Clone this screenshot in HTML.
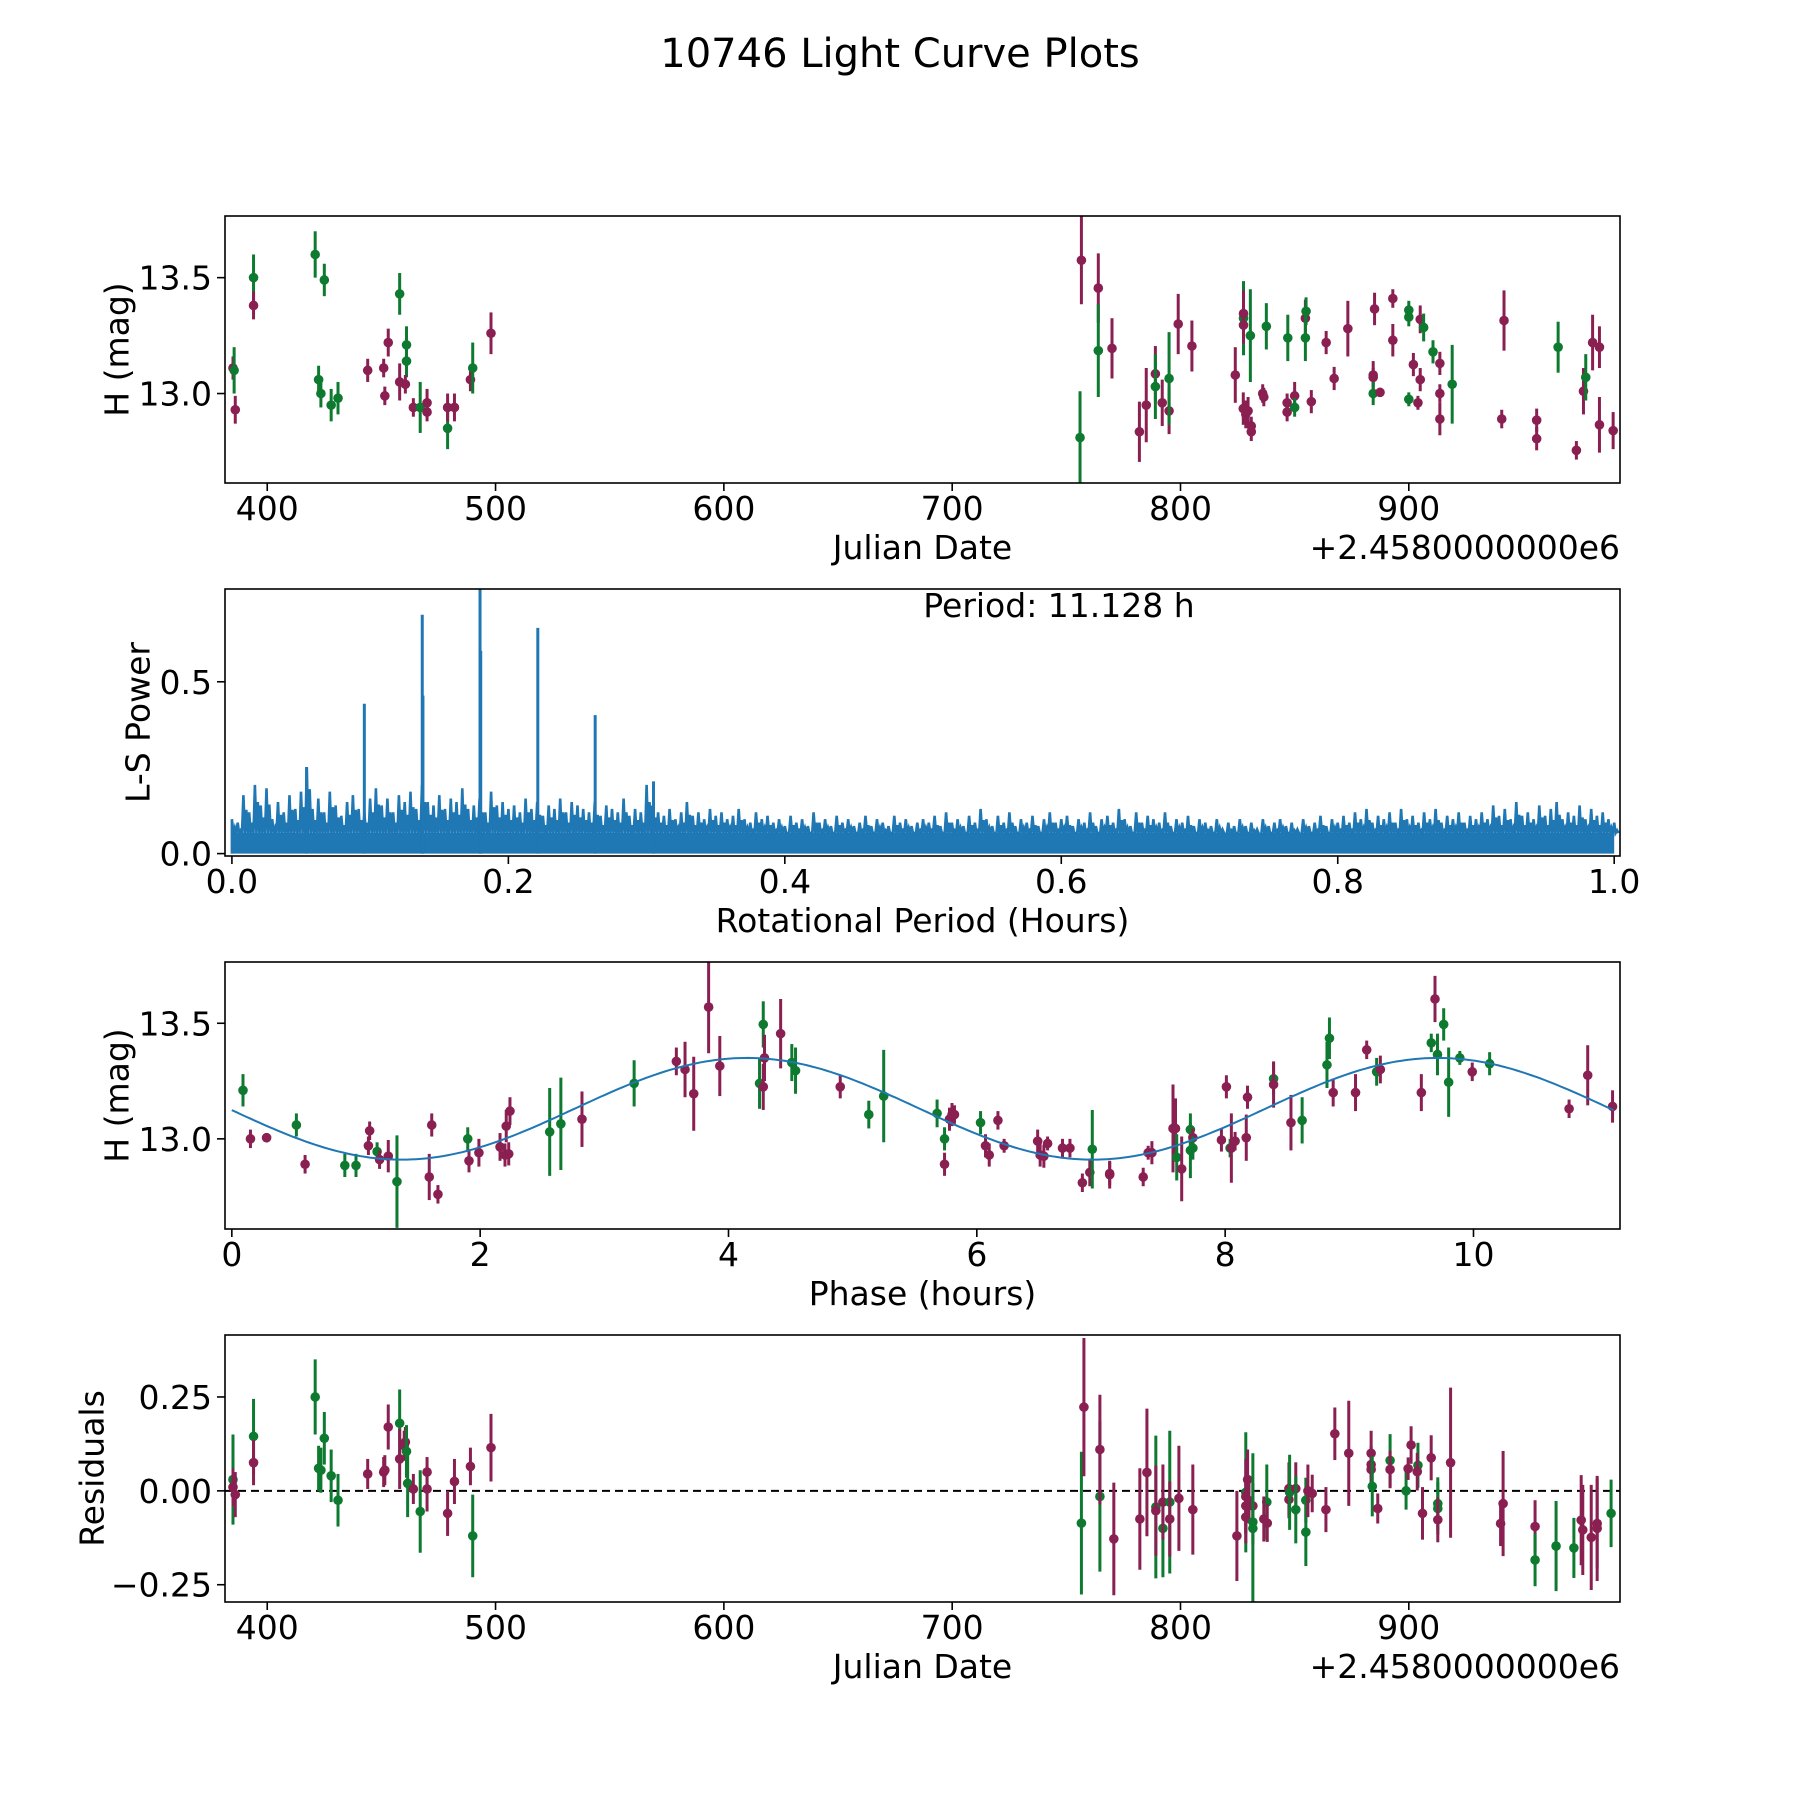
<!DOCTYPE html>
<html><head><meta charset="utf-8"><title>10746 Light Curve Plots</title>
<style>html,body{margin:0;padding:0;background:#fff}svg{display:block}text{font-family:"DejaVu Sans","Liberation Sans",sans-serif;fill:#000}</style>
</head><body>
<svg id="fig" xmlns="http://www.w3.org/2000/svg" width="1800" height="1800" viewBox="0 0 1800 1800">
<rect x="0" y="0" width="1800" height="1800" fill="#fff"/>
<text x="900" y="67" font-size="40" text-anchor="middle">10746 Light Curve Plots</text>
</svg>
<script>
// ---- Panel 1: light curve (JD offset, mag, err, band) ----
const lcJD  = [385,385.5,386,394,394,421,425,422.5,423.5,428,431,444,451,451.5,453,458,458,461,461,460.5,464,467,470,470,479,479,482,489,490,498,
 756.6,756,764,764,770,782,785,789,789,792,795,795,799,805,824,827.6,827.6,827.6,827.5,828.6,829.6,831,831,830.6,836,836.5,837.6,846.7,846.7,847,850,850,854.7,854.7,855,857.3,863.8,867.3,873.3,884.4,884.4,885,884.4,887.4,893,893,900,900,900,902,905,906.5,905,904,910.6,913.6,913.6,913.6,919,941.7,940.7,956,956,965.4,973.4,976.5,977.5,980.5,983.5,983.5,989.5];
const lcMag = [13.11,13.10,12.93,13.50,13.38,13.60,13.49,13.06,13.00,12.95,12.98,13.10,13.11,12.99,13.22,13.43,13.05,13.21,13.14,13.04,12.94,12.94,12.92,12.96,12.85,12.94,12.94,13.06,13.11,13.26,
 13.575,12.81,13.455,13.185,13.195,12.835,12.95,13.085,13.03,12.96,12.925,13.065,13.30,13.205,13.08,13.325,13.345,13.295,12.935,12.91,12.925,12.86,12.835,13.25,13.0,12.985,13.29,12.96,12.92,13.24,12.99,12.94,13.325,13.24,13.355,12.965,13.22,13.065,13.28,13.08,13.07,13.365,13.0,13.005,13.41,13.23,13.36,13.33,12.975,13.125,13.32,13.285,13.06,12.96,13.18,13.13,13.0,12.89,13.04,13.315,12.89,12.885,12.805,13.2,12.755,13.01,13.07,13.22,13.2,12.865,12.84];
const lcErr = [.05,.1,.06,.1,.06,.1,.07,.06,.06,.07,.07,.05,.04,.04,.06,.09,.08,.08,.07,.04,.04,.11,.04,.06,.09,.06,.06,.05,.11,.09,
 .19,.2,.15,.2,.13,.13,.16,.12,.14,.1,.1,.2,.13,.11,.12,.16,.1,.08,.07,.06,.06,.04,.04,.2,.04,.04,.1,.04,.04,.1,.06,.04,.08,.1,.06,.05,.05,.05,.12,.06,.04,.07,.05,.02,.04,.07,.04,.04,.03,.05,.06,.06,.05,.03,.05,.05,.04,.07,.17,.13,.04,.05,.05,.11,.04,.1,.1,.12,.09,.12,.08];
const lcBand = "mgmgmgggggg mmmmgmggmmgmmgmmmgm mgmgmmmmgmmgmmmgmmmmmmmgmmgmmgmgmggmmmmmmmgmmmgggmmgmmgmmmgmmmmgmmgmmmmgm".replace(/ /g,'');

// ---- Panel 2: periodogram ----
const lsNoise = [0.10,0.09,0.17,0.12,0.20,0.14,0.19,0.10,0.15,0.12,0.17,0.13,0.18,
 0.25,0.13,0.16,0.12,0.18,0.14,0.11,0.15,0.17,0.13,0.12,0.16,
 0.19,0.14,0.16,0.12,0.17,0.15,0.18,0.13,0.20,0.15,0.14,0.17,0.13,0.16,0.15,0.19,0.13,0.14,0.16,0.12,0.18,0.14,0.15,0.13,
 0.14,0.12,0.16,0.13,0.15,0.11,0.14,0.13,0.16,0.12,0.15,0.14,0.13,0.12,0.15,0.11,0.14,0.13,0.12,0.16,0.11,0.13,0.12,0.20,
 0.14,0.12,0.11,0.13,0.10,0.12,0.15,0.11,0.12,0.10,0.13,0.11,0.12,0.10,0.11,0.13,0.10,0.09,0.12,0.10,0.11,0.09,0.10,0.08,
 0.11,0.09,0.10,0.08,0.12,0.09,0.10,0.08,0.11,0.09,0.10,0.08,0.09,0.11,0.08,0.10,0.09,0.08,0.11,0.09,0.10,0.08,0.09,0.10,
 0.09,0.11,0.08,0.12,0.09,0.10,0.08,0.11,0.09,0.13,0.10,0.08,0.11,0.09,0.12,0.08,0.10,0.09,0.11,0.08,0.10,0.12,0.09,0.10,
 0.11,0.08,0.10,0.09,0.12,0.08,0.10,0.11,0.09,0.13,0.10,0.08,0.12,0.09,0.11,0.10,0.09,0.12,0.08,0.10,0.09,0.11,0.08,0.10,
 0.09,0.08,0.10,0.07,0.09,0.08,0.10,0.08,0.09,0.07,0.10,0.08,0.09,0.10,0.08,0.09,0.07,0.10,0.08,0.09,0.11,0.08,0.10,0.09,
 0.11,0.09,0.12,0.10,0.13,0.09,0.11,0.10,0.12,0.09,0.13,0.10,0.11,0.09,0.12,0.10,0.13,0.09,0.11,0.10,0.12,0.09,0.11,0.10,
 0.12,0.10,0.14,0.11,0.13,0.10,0.15,0.11,0.12,0.10,0.14,0.11,0.13,0.15,0.10,0.12,0.11,0.14,0.10,0.13,0.11,0.12,0.10,0.09];
const lsFloor = 0.06;
const peakPeriods = [0.054,0.0958,0.1377,0.1382,0.1795,0.180,0.2213,0.2628,0.305];
const peakPowers  = [0.252,0.436,0.695,0.46,0.80,0.59,0.657,0.403,0.21];
const periodLabel = "Period: 11.128 h";

// ---- Panel 3: phased light curve ----
const phX = [0.09,0.15,0.28,0.52,0.59,0.91,1.0,1.1,1.11,1.17,1.19,1.26,1.33,1.59,1.61,1.66,1.9,1.91,1.99,2.16,2.2,2.21,2.24,2.23,2.56,2.65,2.82,3.24,3.58,3.65,3.72,3.84,3.93,4.25,4.28,4.28,4.29,4.42,4.51,4.54,4.9,5.13,5.25,5.68,5.74,5.74,5.78,5.8,5.82,6.03,6.07,6.1,6.17,6.22,6.49,6.51,6.54,6.57,6.69,6.75,6.85,6.91,6.93,7.07,7.07,7.34,7.38,7.41,7.58,7.6,7.61,7.65,7.72,7.72,7.74,7.74,7.97,8.01,8.04,8.05,8.08,8.17,8.18,8.39,8.39,8.53,8.62,8.82,8.84,8.87,9.05,9.14,9.22,9.25,9.58,9.66,9.69,9.71,9.76,9.8,9.89,9.99,10.13,10.77,10.92,11.12];
const phMag = [13.21,13.0,13.005,13.06,12.89,12.885,12.885,12.97,13.035,12.945,12.91,12.925,12.815,12.835,13.06,12.76,13.0,12.905,12.94,12.965,12.93,13.055,13.12,12.935,13.03,13.065,13.085,13.24,13.335,13.3,13.195,13.57,13.315,13.24,13.225,13.495,13.35,13.455,13.33,13.295,13.225,13.105,13.185,13.11,12.89,13.0,13.085,13.105,13.105,13.07,12.97,12.93,13.08,12.97,12.99,12.93,12.925,12.98,12.96,12.96,12.81,12.855,12.955,12.845,12.85,12.835,12.94,12.94,13.045,13.045,12.92,12.87,12.95,13.04,13.005,12.96,12.995,13.225,12.96,12.96,12.99,13.005,13.18,13.26,13.235,13.07,13.08,13.32,13.435,13.2,13.2,13.385,13.29,13.3,13.2,13.415,13.605,13.365,13.495,13.245,13.35,13.29,13.325,13.13,13.275,13.14];
const phErr = [.07,.04,.02,.05,.04,.05,.05,.04,.04,.04,.04,.07,.2,.1,.05,.04,.05,.05,.06,.06,.05,.07,.06,.05,.19,.2,.12,.1,.06,.12,.16,.2,.13,.11,.1,.1,.1,.15,.08,.1,.05,.06,.2,.06,.05,.05,.05,.05,.04,.05,.05,.05,.04,.03,.05,.05,.05,.03,.04,.04,.04,.06,.17,.06,.05,.04,.03,.05,.19,.13,.1,.14,.12,.07,.04,.05,.05,.05,.04,.15,.04,.1,.05,.07,.1,.12,.1,.1,.09,.06,.08,.04,.06,.06,.08,.04,.1,.09,.07,.15,.03,.04,.05,.04,.13,.07];
const phBand = "gmmgmggmmgmmgmmmgmmmmmmmggmgmmmmmgmgmmggmgggmgmmmgmmmmmmmmmmmmgmmmmmmmgmggmgmmgmmmmgmmgggmmmgmmgmggggmgmmmg";
const modelMean = 13.13, modelAmp = 0.22, modelHalfPeriod = 5.564, modelPeakPhase = 4.15;

// ---- Panel 4: residuals ----
const rsJD = [385,385,386,394,394,421,422.5,423.5,425,428,431,444,451,451.5,453,458,458,460,460.5,461,461.5,464,467,470,470,479,482,489,490,498,
 756.6,757.7,764.7,764.7,770.8,782.2,785.3,789.2,789.2,792.3,792.3,795.3,795.3,799.3,805.4,824.7,828.6,828.6,829.4,828.6,828.6,830,831.7,831.7,831.7,837.8,836.5,838,847.5,847.5,847.8,850.5,850.5,854.9,854.9,855.8,857.7,863.7,867.6,873.7,
 883.5,883.5,883.5,884,886.4,891.8,891.8,898.8,901,899.7,904,903.7,906,909.8,912.7,912.7,912.7,918.3,940.2,941.3,955.3,955.3,964.5,972.3,975.5,976.2,979.9,982.5,982.5,988.6];
const rsVal = [0.03,0.01,-0.01,0.145,0.075,0.25,0.06,0.055,0.14,0.04,-0.025,0.045,0.05,0.055,0.17,0.18,0.085,0.12,0.13,0.105,0.02,0.005,-0.055,0.05,0.005,-0.06,0.025,0.065,-0.12,0.115,
 -0.086,0.223,-0.015,0.11,-0.128,-0.075,0.049,-0.043,-0.053,-0.1,-0.03,-0.03,-0.075,-0.02,-0.05,-0.12,-0.004,-0.015,0.03,-0.04,-0.07,-0.026,-0.04,-0.083,-0.1,-0.03,-0.075,-0.086,0.006,-0.023,-0.004,0.006,-0.05,-0.025,-0.11,0.0,-0.007,-0.05,0.152,0.1,
 0.10,0.07,0.057,0.012,-0.047,0.081,0.057,0.0,0.122,0.059,0.068,0.051,-0.06,0.088,-0.034,-0.047,-0.077,0.075,-0.087,-0.034,-0.095,-0.184,-0.147,-0.152,-0.078,-0.104,-0.124,-0.087,-0.1,-0.06];
const rsErr = [.12,.05,.06,.1,.06,.1,.06,.06,.07,.07,.07,.04,.04,.04,.06,.09,.08,.04,.04,.07,.09,.04,.11,.04,.06,.06,.06,.05,.11,.09,
 .19,.184,.2,.146,.15,.135,.17,.19,.12,.13,.1,.19,.1,.14,.12,.12,.16,.1,.08,.07,.07,.06,.06,.06,.2,.1,.06,.05,.07,.05,.1,.07,.09,.06,.09,.07,.05,.06,.07,.14,
 .06,.05,.05,.08,.04,.07,.05,.05,.05,.03,.06,.05,.07,.06,.07,.07,.06,.2,.06,.14,.07,.07,.12,.08,.12,.12,.14,.12,.14,.09];
const rsBand = "gmmgmgggggg mmmmgmmmggmgmmmmmgm gmgmmmmgmgmgmmmmgmmmmmmgggmmmmgmgggmmmmm mmmgmgmgmmgmmmggmmmmmgggmmmmmgm".replace(/ /g,'');

const xTicksJD = [400,500,600,700,800,900];
const xTicksPer = [0,0.2,0.4,0.6,0.8,1.0];
const xTicksPer_labels = ["0.0","0.2","0.4","0.6","0.8","1.0"];
const xTicksPh = [0,2,4,6,8,10];
const yTicksMag = [13.0,13.5];
const yTicksMag_labels = ["13.0","13.5"];
const yTicksLS = [0.0,0.5];
const yTicksLS_labels = ["0.0","0.5"];
const yTicksRes = [-0.25,0,0.25];
const yTicksRes_labels = ["\u22120.25","0.00","0.25"];

const NS = "http://www.w3.org/2000/svg";
const svg = document.getElementById('fig');
const COL = {m:'#8a1f52', g:'#0e7a30'};
const L = 225, R = 1620, FS = 33;
function mk(tag, attrs, parent){ const e=document.createElementNS(NS,tag); for(const k in attrs) e.setAttribute(k,attrs[k]); (parent||svg).appendChild(e); return e; }
function scale(d0,d1,p0,p1){ return v => p0 + (v-d0)/(d1-d0)*(p1-p0); }

function axesFrame(id, top, bot, xs, ys, xt, xtl, yt, ytl, xlabel, ylabel, ylabX){
  const g = mk('g',{});
  
  
  const cp = mk('clipPath',{id:'clip-'+id}, g);
  mk('rect',{x:L,y:top,width:R-L,height:bot-top}, cp);
  const plot = mk('g',{'clip-path':'url(#clip-'+id+')'}, g);
  
  
  const xg = mk('g',{}, g);
  
  
  xt.forEach((v,i)=>{ const x=xs(v);
    mk('line',{x1:x,x2:x,y1:bot,y2:bot+8,stroke:'#000','stroke-width':1.6}, xg);
    const t=mk('text',{x:x,y:bot+37,'font-size':FS,'text-anchor':'middle'}, xg);
    
    
    t.textContent = xtl ? xtl[i] : String(v);
  });
  const yg = mk('g',{}, g);
  
  
  yt.forEach((v,i)=>{ const y=ys(v);
    mk('line',{x1:L-8,x2:L,y1:y,y2:y,stroke:'#000','stroke-width':1.6}, yg);
    const t=mk('text',{x:L-13,y:y+12,'font-size':FS,'text-anchor':'end'}, yg);
    
    
    t.textContent = ytl[i];
  });
  const xl = mk('text',{x:(L+R)/2,y:bot+76,'font-size':FS,'text-anchor':'middle'}, g);
  
  
  xl.textContent = xlabel;
  const cy=(top+bot)/2;
  const yl = mk('text',{x:ylabX,y:cy,'font-size':FS,'text-anchor':'middle',transform:'rotate(-90 '+ylabX+' '+cy+')','dominant-baseline':'central'}, g);
  
  
  yl.textContent = ylabel;
  return {g, plot, frame:()=>{ const f=mk('rect',{x:L,y:top,width:R-L,height:bot-top,fill:'none',stroke:'#000','stroke-width':1.6}, g);
      }};
}
function offsetLabel(g, bot){
  const t=mk('text',{x:R,y:bot+76,'font-size':FS,'text-anchor':'end'}, g);
  
  
  t.textContent = '+2.4580000000e6';
}
function errPoints(plot, xs, ys, X, Y, E, B, name){
  X.forEach((x,i)=>{
    const c = COL[B[i]] || COL.m; const px=xs(x);
    const gp = mk('g',{}, plot);
    
    
    mk('line',{x1:px,x2:px,y1:ys(Y[i]-E[i]),y2:ys(Y[i]+E[i]),stroke:c,'stroke-width':3}, gp);
    mk('circle',{cx:px,cy:ys(Y[i]),r:4.8,fill:c}, gp);
  });
}

// Panel 1
(function(){
  const top=216,bot=483;
  const xs=scale(381.5,992.5,L,R), ys=scale(12.614,13.766,bot,top);
  const a=axesFrame('lightcurve',top,bot,xs,ys,xTicksJD,null,yTicksMag,yTicksMag_labels,'Julian Date','H (mag)',117);
  errPoints(a.plot,xs,ys,lcJD,lcMag,lcErr,lcBand,'lightcurve-point');
  offsetLabel(a.g,bot); a.frame();
})();

// Panel 2
(function(){
  const top=589,bot=856;
  const xs=scale(-0.005,1.0042,L,R), ys=scale(-0.007,0.77,bot,top);
  const a=axesFrame('periodogram',top,bot,xs,ys,xTicksPer,xTicksPer_labels,yTicksLS,yTicksLS_labels,'Rotational Period (Hours)','L-S Power',138);
  const n=lsNoise.length; const step=1/(n-1);
  let d='M'+xs(0)+' '+ys(0);
  lsNoise.forEach((v,i)=>{ const x=i*step;
    d+=' L'+xs(x).toFixed(1)+' '+ys(v).toFixed(1)+' L'+xs(x+step*0.25).toFixed(1)+' '+ys(lsFloor).toFixed(1)+
       ' L'+xs(x+step*0.5).toFixed(1)+' '+ys(v*0.75).toFixed(1)+' L'+xs(x+step*0.75).toFixed(1)+' '+ys(lsFloor).toFixed(1); });
  const fill = mk('path',{d:'M'+xs(0)+' '+ys(0)+' L'+xs(0)+' '+ys(lsFloor)+' L'+xs(1)+' '+ys(lsFloor)+' L'+xs(1)+' '+ys(0)+' Z',fill:'#1f77b4'}, a.plot);
  
  
  const ln = mk('path',{d:d,fill:'none',stroke:'#1f77b4','stroke-width':2.6,'stroke-linejoin':'miter'}, a.plot);
  
  
  peakPeriods.forEach((p,i)=>{
    const s=mk('line',{x1:xs(p),x2:xs(p),y1:ys(0),y2:ys(peakPowers[i]),stroke:'#1f77b4','stroke-width':3}, a.plot);
    
    
  });
  const t=mk('text',{x:1059,y:617,'font-size':FS,'text-anchor':'middle'}, a.g);
  
  
  t.textContent=periodLabel;
  a.frame();
})();

// Panel 3
(function(){
  const top=962,bot=1229;
  const xs=scale(-0.055,11.18,L,R), ys=scale(12.61,13.765,bot,top);
  const a=axesFrame('phased',top,bot,xs,ys,xTicksPh,null,yTicksMag,yTicksMag_labels,'Phase (hours)','H (mag)',117);
  errPoints(a.plot,xs,ys,phX,phMag,phErr,phBand,'phased-point');
  let d=''; const N=300;
  for(let k=0;k<=N;k++){ const ph=11.128*k/N; const m=modelMean+modelAmp*Math.cos(2*Math.PI*(ph-modelPeakPhase)/modelHalfPeriod);
    d+=(k?' L':'M')+xs(ph).toFixed(1)+' '+ys(m).toFixed(1); }
  const c=mk('path',{d:d,fill:'none',stroke:'#1f77b4','stroke-width':2}, a.plot);
  
  
  a.frame();
})();

// Panel 4
(function(){
  const top=1335,bot=1602;
  const xs=scale(381.5,992.5,L,R), ys=scale(-0.296,0.415,bot,top);
  const a=axesFrame('residuals',top,bot,xs,ys,xTicksJD,null,yTicksRes,yTicksRes_labels,'Julian Date','Residuals',92);
  const z=mk('line',{x1:L,x2:R,y1:ys(0),y2:ys(0),stroke:'#000','stroke-width':2,'stroke-dasharray':'8,5'}, a.plot);
  
  
  errPoints(a.plot,xs,ys,rsJD,rsVal,rsErr,rsBand,'residual-point');
  offsetLabel(a.g,bot); a.frame();
})();
</script>
</body></html>
